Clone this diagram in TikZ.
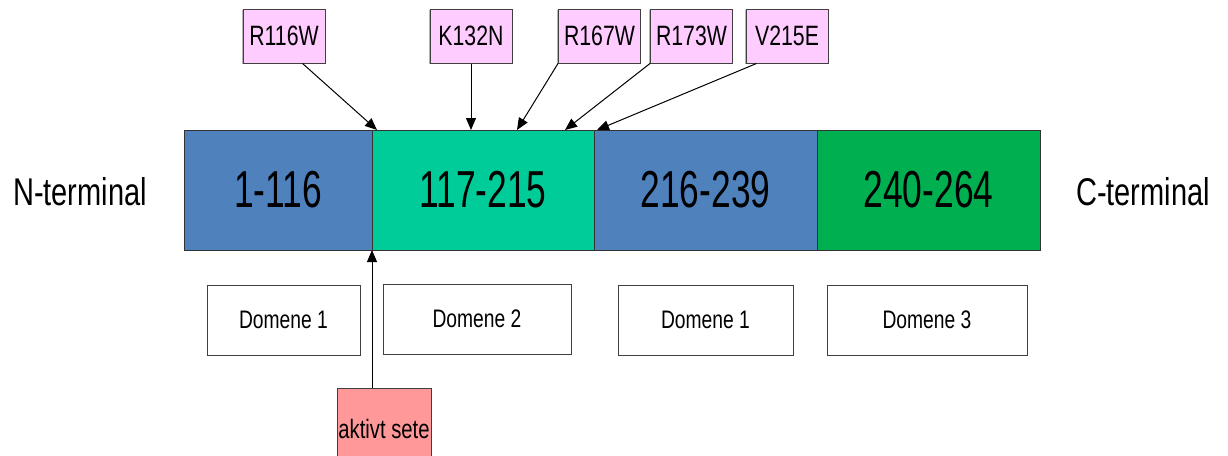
\documentclass[tikz,border=0pt]{standalone}
\usepackage{fontspec}
\setmainfont{Liberation Sans}
\newfontfamily\segfont[FakeStretch=0.68]{Liberation Sans}
\newfontfamily\termfont[FakeStretch=0.75]{Liberation Sans}
\newfontfamily\boxfont[FakeStretch=0.76]{Liberation Sans}
\usetikzlibrary{positioning,arrows.meta,shadows}
\definecolor{segblue}{HTML}{4F81BD}
\definecolor{segteal}{HTML}{00CC99}
\definecolor{seggreen}{HTML}{00B050}
\definecolor{mutpink}{HTML}{FFCCFF}
\definecolor{sitered}{HTML}{FF9999}
\tikzset{
  seg/.style={draw=black!80, line width=0.75pt, minimum height=90pt, inner sep=0pt, outer sep=0pt,
    font=\segfont\fontsize{39}{39}\selectfont},
  mut/.style={draw=black!75, line width=0.75pt, fill=mutpink, minimum width=61.5pt, minimum height=40.5pt,
    inner sep=0pt, drop shadow={shadow xshift=-0.8pt, shadow yshift=-0.8pt, fill=black!60},
    font=\boxfont\fontsize{21}{21}\selectfont},
  dom/.style={draw=black!75, line width=0.75pt, fill=white, minimum height=52.5pt, inner sep=0pt,
    drop shadow={shadow xshift=0pt, shadow yshift=-0.9pt, fill=black!60},
    font=\boxfont\fontsize{19}{19}\selectfont},
  term/.style={font=\termfont\fontsize{29}{29}\selectfont},
  mutarrow/.style={-{Triangle[length=9pt,width=7.5pt]}, line width=0.75pt},
}
\begin{document}
\begin{tikzpicture}[x=0.75pt,y=-0.75pt]
  \useasboundingbox (0,0) rectangle (1228,455);
  % protein bar
  \node[seg, fill=segblue, minimum width=141pt] (seg1) at (278,190) {1-116};
  \node[seg, fill=segteal, minimum width=166.5pt, right=0pt of seg1] (seg2) {117-215};
  \node[seg, fill=segblue, minimum width=167.25pt, right=0pt of seg2] (seg3) {216-239};
  \node[seg, fill=seggreen, minimum width=167.25pt, right=0pt of seg3] (seg4) {240-264};
  \node[term] (nterm) at (80,192) {N-terminal};
  \node[term] (cterm) at (1143,192) {C-terminal};
  % mutations
  \node[mut] (r116w) at (284,36) {R116W};
  \node[mut] (k132n) at (471,36) {K132N};
  \node[mut] (r167w) at (599.5,36) {R167W};
  \node[mut] (r173w) at (691.5,36) {R173W};
  \node[mut] (v215e) at (787,36) {V215E};
  \coordinate (m1) at (377,130);
  \coordinate (m2) at (k132n.south |- seg2.north);
  \coordinate (m3) at (517,130);
  \coordinate (m4) at (565,130);
  \coordinate (m5) at (597,130);
  \draw[mutarrow] (r116w.-56) -- (m1);
  \draw[mutarrow] (k132n.south) -- (m2);
  \draw[mutarrow] (r167w.south west) -- (m3);
  \draw[mutarrow] (r173w.south west) -- (m4);
  \draw[mutarrow] (v215e.-138) -- (m5);
  % domains
  \node[dom, minimum width=114.75pt] (dom1) at (283.5,320) {Domene 1};
  \node[dom, minimum width=141pt] (dom2) at (477,319) {Domene 2};
  \node[dom, minimum width=131.25pt] (dom3) at (705.5,320) {Domene 1};
  \node[dom, minimum width=150pt] (dom4) at (927,320) {Domene 3};
  % active site
  \node[draw=black!75, line width=0.75pt, fill=sitered, minimum width=70.5pt, minimum height=61.5pt,
    inner sep=0pt, font=\boxfont\fontsize{20}{20}\selectfont] (aktiv) at (384,429) {aktivt sete};
  \coordinate (site) at (seg2.south west);
  \draw[mutarrow] (site |- aktiv.north) -- (site);
\end{tikzpicture}
\end{document}
